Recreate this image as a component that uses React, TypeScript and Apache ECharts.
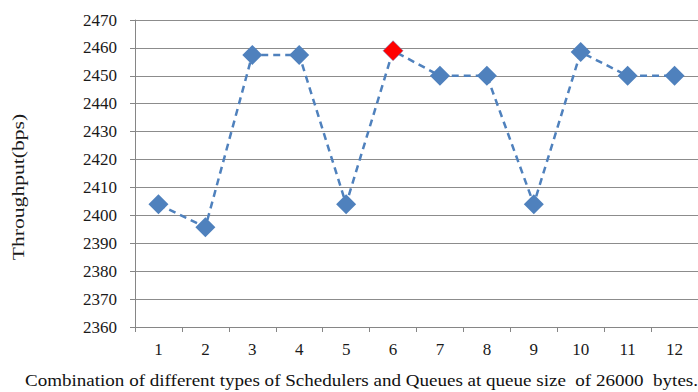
import React, { useEffect, useRef } from "react";
import * as echarts from "echarts";

const categories = ["1", "2", "3", "4", "5", "6", "7", "8", "9", "10", "11", "12"];
const throughput = [2404, 2395.7, 2457.5, 2457.5, 2404, 2459, 2450, 2450, 2404, 2458.5, 2450, 2450];
const highlightIndex = 5;
const yMin = 2360;
const yMax = 2470;
const yStep = 10;
const xTitle = "Combination of different types of Schedulers and Queues at queue size  of 26000  bytes.";
const yTitle = "Throughput(bps)";

export default function App() {
  const ref = useRef<HTMLDivElement>(null);
  useEffect(() => {
    if (!ref.current) return;
    const chart = echarts.init(ref.current, null, { renderer: "svg" });
    const font = "Liberation Serif";
    chart.setOption({
      animation: false,
      grid: { left: 135, top: 20, width: 571, height: 307 },
      xAxis: {
        type: "category",
        data: categories,
        boundaryGap: true,
        axisLine: { lineStyle: { color: "#868686", width: 1 } },
        axisTick: { show: true, length: 5, lineStyle: { color: "#868686" } },
        axisLabel: { color: "#1a1a1a", fontFamily: font, fontSize: 17, margin: 14 },
        splitLine: { show: false },
      },
      yAxis: {
        type: "value",
        min: yMin,
        max: yMax,
        interval: yStep,
        axisLine: { show: true, lineStyle: { color: "#868686", width: 1 } },
        axisTick: { show: true, length: 5, lineStyle: { color: "#868686" } },
        axisLabel: {
          color: "#1a1a1a",
          fontFamily: font,
          fontSize: 17,
          margin: 18,
          formatter: (v: number) => String(v),
        },
        splitLine: { show: true, lineStyle: { color: "#8c8c8c", width: 1 } },
      },
      series: [
        {
          type: "line",
          data: throughput.map((v, i) =>
            i === highlightIndex
              ? { value: v, itemStyle: { color: "#FF0000", borderColor: "#5b7fc0", borderWidth: 0.5 } }
              : v
          ),
          symbol: "diamond",
          symbolSize: 20,
          lineStyle: { color: "#4F81BD", width: 2.5, type: [7, 5] },
          itemStyle: { color: "#4F81BD" },
        },
      ],
      graphic: [
        {
          type: "text",
          x: 19,
          y: 187,
          rotation: Math.PI / 2,
          scaleX: 1.35,
          style: {
            text: yTitle,
            fill: "#1a1a1a",
            font: `16px ${font}`,
            align: "center",
            verticalAlign: "middle",
          },
        },
        {
          type: "text",
          x: 25,
          y: 381,
          scaleX: 1.19,
          style: {
            text: xTitle,
            fill: "#111",
            font: `16px ${font}`,
            align: "left",
            verticalAlign: "middle",
          },
        },
      ],
    });
    return () => chart.dispose();
  }, []);
  return <div ref={ref} style={{ width: 698, height: 392, position: "absolute", left: 0, top: 0 }} />;
}
